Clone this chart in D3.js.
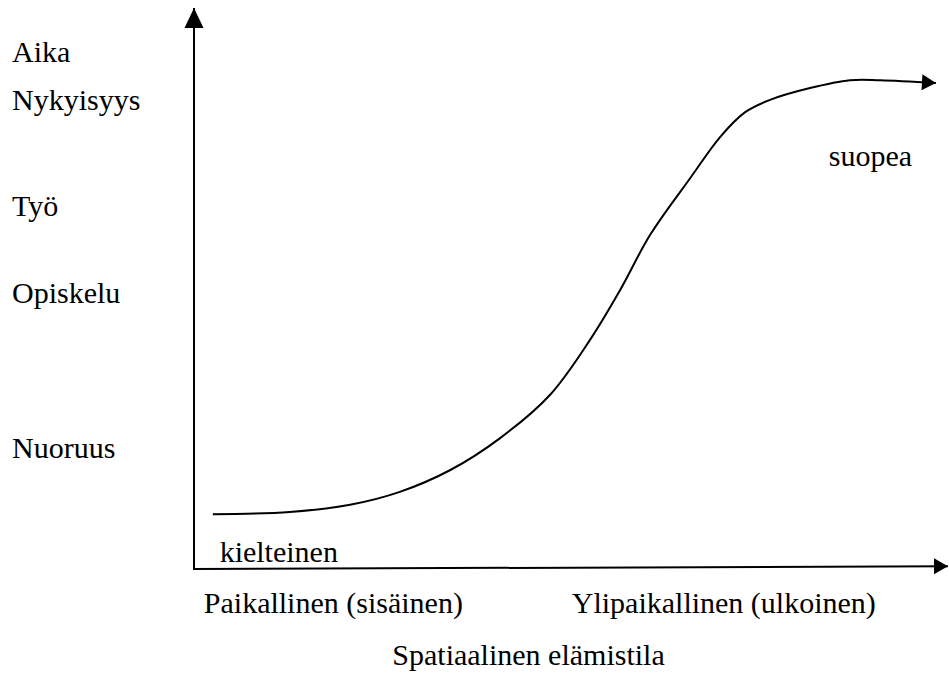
<!DOCTYPE html>
<html>
<head>
<meta charset="utf-8">
<script src="https://cdn.jsdelivr.net/npm/d3@7"></script>
<style>
  body { margin: 0; background: #fff; }
  svg text { font-family: "Liberation Serif", "Times New Roman", serif; font-size: 30px; fill: #000; }
</style>
</head>
<body>
<div id="chart"></div>
<script>
// data (x = spatial reach, y = time / life stage, both 0..100)
var curveX = [2.5, 12.7, 20.7, 27.3, 34.0, 40.6, 47.2, 52.5, 56.5, 60.5, 65.8, 69.8, 73.1, 76.4, 81.7, 87.0, 91.0, 98.4];
var curveY = [9.6, 10.0, 11.3, 13.6, 17.5, 23.2, 30.9, 40.7, 49.6, 59.5, 69.6, 77.0, 81.4, 83.6, 85.7, 87.1, 87.1, 86.6];

var stageLabels = ["Aika", "Nykyisyys", "Työ", "Opiskelu", "Nuoruus"];
var stageValues = [90.4, 81.8, 62.9, 47.3, 19.6];

var spaceLabels = ["Paikallinen (sisäinen)", "Ylipaikallinen (ulkoinen)"];
var spaceValues = [1.3, 50.1];

var xTitle = "Spatiaalinen elämistila";
var lowLabel = "kielteinen";
var highLabel = "suopea";

// SETUP
var width = 949, height = 673;

var x = d3.scaleLinear().domain([0, 100]).range([194, 948]);
var y = d3.scaleLinear().domain([0, 100]).range([568, 8]);

var svg = d3.select("#chart").append("svg")
    .attr("width", width)
    .attr("height", height);

var defs = svg.append("defs");

// arrow heads
defs.append("marker")
    .attr("id", "arrowUp")
    .attr("viewBox", "0 -10 20 20")
    .attr("refX", 20).attr("refY", 0)
    .attr("markerWidth", 20).attr("markerHeight", 20)
    .attr("markerUnits", "userSpaceOnUse")
    .attr("orient", "auto")
  .append("path")
    .attr("d", "M0,-9.5L20,0L0,9.5Z")
    .attr("fill", "#000");

defs.append("marker")
    .attr("id", "arrowSmall")
    .attr("viewBox", "0 -10 20 20")
    .attr("refX", 20).attr("refY", 0)
    .attr("markerWidth", 20).attr("markerHeight", 20)
    .attr("markerUnits", "userSpaceOnUse")
    .attr("orient", "auto")
  .append("path")
    .attr("d", "M6,-8L20,0L6,8Z")
    .attr("fill", "#000");

// axes
svg.append("line")
    .attr("x1", x(0)).attr("y1", y(0) + 1)
    .attr("x2", x(0)).attr("y2", y(100))
    .attr("stroke", "#000").attr("stroke-width", 2)
    .attr("marker-end", "url(#arrowUp)");

svg.append("line")
    .attr("x1", x(0) - 1).attr("y1", y(0) + 1)
    .attr("x2", x(100)).attr("y2", y(0.3))
    .attr("stroke", "#000").attr("stroke-width", 2)
    .attr("marker-end", "url(#arrowSmall)");

// the curve
var pts = curveX.map(function(d, i) { return [d, curveY[i]]; });

var line = d3.line()
    .x(function(d) { return x(d[0]); })
    .y(function(d) { return y(d[1]); })
    .curve(d3.curveCatmullRom.alpha(0.5));

svg.append("path")
    .datum(pts)
    .attr("d", line)
    .attr("fill", "none")
    .attr("stroke", "#000")
    .attr("stroke-width", 2)
    .attr("marker-end", "url(#arrowSmall)");

// life stage labels on the left
svg.selectAll("text.stage")
    .data(stageLabels)
  .enter().append("text")
    .attr("class", "stage")
    .attr("x", 12)
    .attr("y", function(d, i) { return y(stageValues[i]); })
    .text(function(d) { return d; });

// spatial labels under the x axis
svg.selectAll("text.space")
    .data(spaceLabels)
  .enter().append("text")
    .attr("class", "space")
    .attr("x", function(d, i) { return x(spaceValues[i]); })
    .attr("y", 613)
    .text(function(d) { return d; });

svg.append("text")
    .attr("x", x(26.3))
    .attr("y", 665)
    .text(xTitle);

svg.append("text")
    .attr("x", x(3.4))
    .attr("y", y(1.1))
    .text(lowLabel);

svg.append("text")
    .attr("x", x(84.2))
    .attr("y", y(71.8))
    .text(highLabel);
</script>
</body>
</html>
